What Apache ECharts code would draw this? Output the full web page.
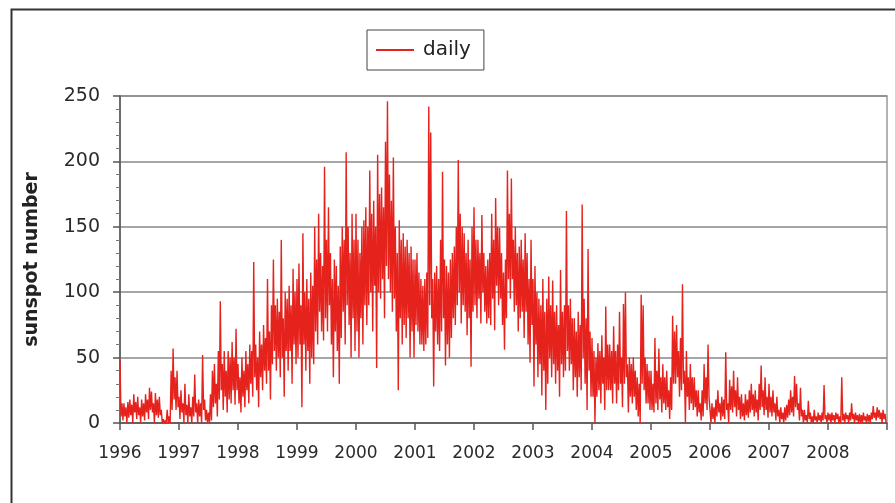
<!DOCTYPE html>
<html>
<head>
<meta charset="utf-8">
<script src="https://cdn.jsdelivr.net/npm/echarts@6/dist/echarts.min.js"></script>
<style>
  html, body { margin: 0; padding: 0; background: #fff; }
  #chart { width: 895px; height: 503px; }
</style>
</head>
<body>
<div id="chart"></div>
<script>
  // daily sunspot number:
  // 30 slots per year, highest and lowest value seen in each slot
  var years = [1996, 1997, 1998, 1999, 2000, 2001, 2002, 2003, 2004, 2005, 2006, 2007, 2008];

  var hi1996 = [48, 15, 15, 12, 16, 18, 14, 22, 16, 20, 12, 18, 15, 22, 18, 27, 24, 15, 23, 18, 20, 10, 3, 2, 10, 5, 40, 57, 35, 40];
  var lo1996 = [5, 2, 5, 0, 4, 6, 0, 8, 3, 6, 0, 5, 2, 8, 3, 10, 8, 0, 6, 4, 6, 0, 0, 0, 0, 0, 10, 18, 10, 12];
  var hi1997 = [20, 25, 15, 30, 14, 22, 12, 20, 37, 15, 18, 15, 52, 18, 10, 8, 22, 40, 45, 30, 55, 93, 45, 55, 40, 55, 50, 62, 50, 72];
  var lo1997 = [3, 8, 0, 6, 0, 5, 0, 5, 8, 0, 5, 0, 10, 2, 0, 0, 2, 12, 15, 5, 18, 25, 10, 20, 8, 18, 15, 25, 14, 25];
  var hi1998 = [45, 35, 50, 40, 55, 45, 60, 55, 123, 60, 50, 70, 60, 75, 65, 110, 70, 90, 125, 90, 95, 85, 140, 80, 100, 95, 105, 90, 118, 100];
  var lo1998 = [15, 8, 20, 12, 25, 15, 30, 20, 35, 25, 12, 35, 25, 40, 30, 40, 18, 45, 55, 40, 50, 35, 50, 20, 55, 40, 55, 30, 60, 45];
  var hi1999 = [110, 122, 90, 145, 100, 110, 95, 115, 105, 150, 125, 160, 130, 120, 196, 140, 165, 130, 110, 125, 120, 105, 135, 150, 140, 207, 150, 130, 160, 140];
  var lo1999 = [50, 60, 12, 60, 40, 55, 30, 50, 45, 70, 60, 85, 70, 63, 80, 70, 90, 60, 35, 70, 55, 30, 65, 85, 60, 90, 75, 50, 80, 55];
  var hi2000 = [160, 140, 130, 150, 155, 165, 150, 193, 160, 170, 150, 205, 175, 180, 165, 215, 246, 190, 170, 203, 150, 130, 155, 140, 145, 135, 140, 130, 135, 125];
  var lo2000 = [70, 50, 80, 60, 90, 75, 90, 100, 70, 105, 42, 100, 95, 110, 80, 120, 110, 100, 85, 95, 70, 25, 80, 60, 75, 65, 80, 50, 70, 50];
  var hi2001 = [125, 130, 115, 110, 105, 110, 115, 242, 222, 110, 115, 120, 110, 140, 192, 125, 120, 115, 125, 130, 135, 150, 201, 160, 150, 145, 130, 140, 125, 150];
  var lo2001 = [75, 70, 60, 60, 55, 60, 65, 90, 80, 28, 70, 60, 55, 70, 80, 44, 60, 50, 65, 80, 75, 90, 100, 76, 90, 85, 67, 80, 43, 85];
  var hi2002 = [165, 140, 140, 130, 159, 130, 120, 125, 130, 160, 140, 172, 150, 149, 130, 115, 125, 193, 160, 187, 140, 150, 130, 135, 140, 125, 145, 130, 110, 140];
  var lo2002 = [90, 80, 95, 76, 100, 85, 76, 80, 75, 95, 71, 105, 90, 95, 75, 56, 80, 110, 95, 110, 85, 90, 70, 80, 85, 65, 85, 60, 46, 75];
  var hi2003 = [110, 120, 100, 95, 90, 110, 85, 95, 112, 90, 109, 85, 90, 75, 117, 85, 90, 162, 90, 95, 80, 80, 70, 85, 75, 167, 95, 80, 133, 70];
  var lo2003 = [28, 60, 35, 45, 21, 40, 10, 30, 50, 35, 45, 30, 40, 20, 45, 35, 40, 55, 40, 45, 25, 35, 20, 35, 25, 50, 30, 10, 40, 20];
  var hi2004 = [65, 55, 50, 61, 55, 67, 50, 89, 60, 60, 55, 74, 55, 60, 85, 50, 91, 100, 45, 50, 45, 50, 40, 35, 30, 98, 90, 50, 45, 40];
  var lo2004 = [20, 0, 20, 25, 15, 30, 10, 25, 25, 25, 15, 30, 15, 25, 30, 12, 30, 35, 8, 20, 15, 20, 10, 5, 0, 30, 25, 15, 15, 10];
  var hi2005 = [40, 30, 65, 40, 57, 35, 45, 35, 40, 25, 35, 82, 70, 75, 55, 65, 106, 40, 55, 35, 45, 35, 35, 25, 25, 15, 25, 45, 35, 60];
  var lo2005 = [10, 8, 15, 10, 18, 8, 15, 10, 12, 3, 10, 30, 30, 35, 20, 25, 30, 0, 20, 10, 15, 10, 12, 5, 8, 2, 5, 15, 10, 20];
  var hi2006 = [20, 15, 12, 18, 25, 15, 20, 18, 54, 15, 33, 28, 40, 25, 35, 20, 22, 15, 22, 18, 25, 30, 22, 25, 18, 30, 44, 25, 35, 20];
  var lo2006 = [0, 3, 0, 5, 8, 2, 5, 3, 10, 0, 10, 8, 12, 5, 10, 3, 5, 2, 6, 4, 8, 10, 5, 8, 2, 10, 12, 6, 10, 4];
  var hi2007 = [30, 20, 25, 15, 20, 10, 12, 8, 12, 14, 18, 25, 20, 36, 30, 15, 27, 10, 10, 6, 17, 8, 5, 10, 5, 8, 6, 8, 29, 6];
  var lo2007 = [8, 5, 8, 2, 5, 0, 3, 0, 2, 4, 6, 8, 5, 12, 10, 2, 5, 0, 2, 0, 3, 0, 0, 2, 0, 2, 0, 2, 3, 0];
  var hi2008 = [8, 7, 8, 6, 8, 7, 5, 35, 7, 8, 6, 8, 15, 7, 8, 6, 7, 6, 8, 5, 7, 6, 8, 13, 8, 12, 10, 8, 10, 7];
  var lo2008 = [2, 0, 2, 0, 3, 0, 0, 2, 0, 3, 0, 2, 3, 0, 2, 0, 0, 0, 2, 0, 1, 0, 3, 4, 2, 4, 3, 0, 3, 0];

  var hiYears = [hi1996, hi1997, hi1998, hi1999, hi2000, hi2001, hi2002, hi2003, hi2004, hi2005, hi2006, hi2007, hi2008];
  var loYears = [lo1996, lo1997, lo1998, lo1999, lo2000, lo2001, lo2002, lo2003, lo2004, lo2005, lo2006, lo2007, lo2008];

  // the line swings from high to low within each slot, like the daily trace does
  var daily = [];
  years.forEach(function (yr, k) {
    var hi = hiYears[k], lo = loYears[k], n = hi.length;
    for (var i = 0; i < n; i++) {
      daily.push([yr + i / n, hi[i]]);
      daily.push([yr + (i + 0.5) / n, lo[i]]);
    }
  });

  var myChart = echarts.init(document.getElementById('chart'));
  var font = 'DejaVu Sans, Verdana, sans-serif';
  var red = '#e6221d';

  var option = {
    animation: false,
    backgroundColor: '#fff',
    graphic: [{
      type: 'rect',
      left: 9, top: 7,
      shape: { width: 920, height: 520 },
      style: { fill: 'none', stroke: '#333', lineWidth: 2 }
    }],
    legend: {
      left: 367, top: 30,
      padding: [10, 13, 10, 9],
      borderColor: '#444', borderWidth: 1,
      icon: 'rect',
      itemWidth: 38, itemHeight: 2,
      textStyle: { fontFamily: font, fontSize: 20, color: '#222', padding: [0, 0, 0, 4] },
      data: ['daily']
    },
    grid: {
      left: 120, top: 96, right: 8, bottom: 80,
      show: true, borderColor: '#999', borderWidth: 1.5
    },
    xAxis: {
      type: 'value',
      min: 1996, max: 2009, interval: 1,
      axisLine: { lineStyle: { color: '#555', width: 1.5 } },
      axisTick: { show: true, length: 7, lineStyle: { color: '#555', width: 1.5 } },
      splitLine: { show: false },
      axisLabel: {
        margin: 22,
        fontFamily: font, fontSize: 17, color: '#2a2a2a',
        formatter: function (v) { return v === 2009 ? '' : v; }
      }
    },
    yAxis: {
      type: 'value',
      min: 0, max: 250, interval: 50,
      name: 'sunspot number',
      nameLocation: 'middle',
      nameGap: 78,
      nameTextStyle: { fontFamily: font, fontSize: 19, fontWeight: 'bold', color: '#222' },
      axisLine: { show: true, lineStyle: { color: '#555', width: 1.5 } },
      axisTick: { show: true, length: 7, lineStyle: { color: '#555', width: 1.5 } },
      minorTick: { show: true, splitNumber: 5, length: 4, lineStyle: { color: '#777' } },
      splitLine: { lineStyle: { color: '#888', width: 1.5 } },
      axisLabel: { margin: 20, fontFamily: font, fontSize: 19, color: '#2a2a2a' }
    },
    series: [{
      name: 'daily',
      type: 'line',
      symbol: 'none',
      data: daily,
      lineStyle: { color: red, width: 1.4, join: 'bevel' },
      itemStyle: { color: red }
    }]
  };

  myChart.setOption(option);

  window.addEventListener('resize', function () {
    myChart.resize();
  });
</script>
</body>
</html>
